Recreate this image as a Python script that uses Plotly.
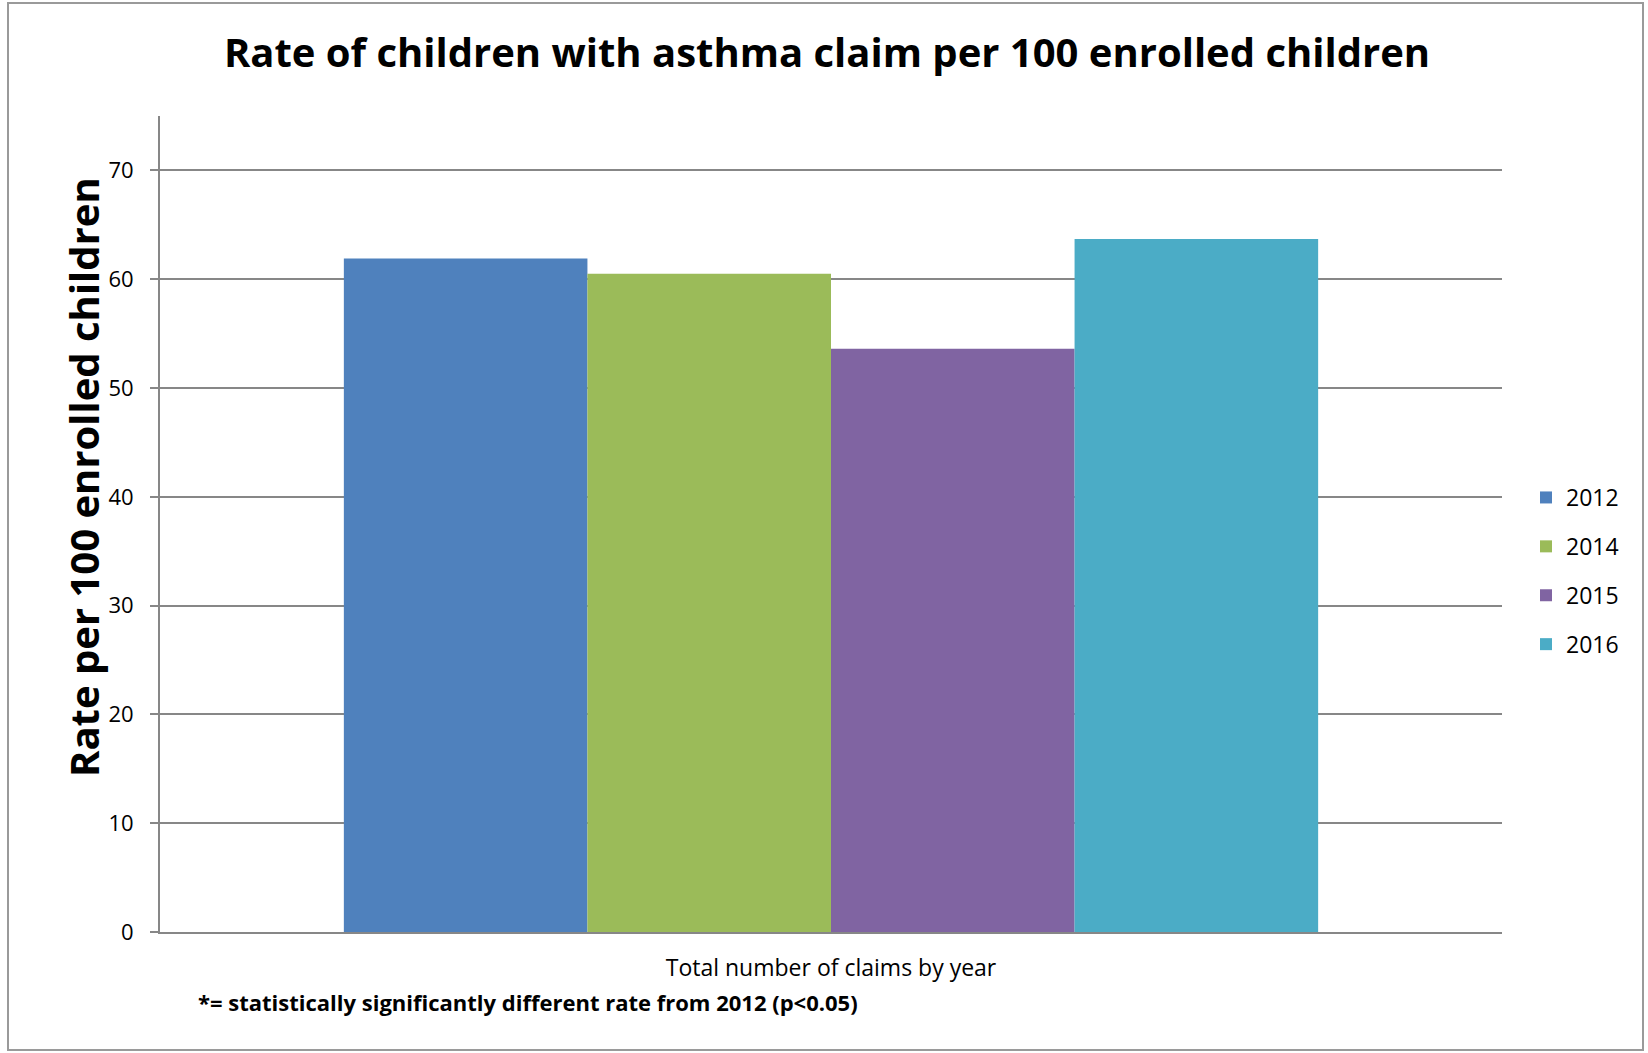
import plotly.graph_objects as go

# Chart data
category = ["Total number of claims by year"]
years = ["2012", "2014", "2015", "2016"]
rates = [61.9, 60.5, 53.6, 63.7]
colors = ["#4F81BD", "#9BBB59", "#8064A2", "#4BACC6"]
y_ticks = [0, 10, 20, 30, 40, 50, 60, 70]

FONT = "Open Sans"

fig = go.Figure()
for yr, val, col in zip(years, rates, colors):
    fig.add_trace(go.Bar(
        x=category, y=[val], name=yr, marker=dict(color=col, line=dict(width=0)),
        legendgroup=yr,
    ))

W, H = 1648, 1053
L, R, T, B = 160, 146, 116, 121
pw, ph = W - L - R, H - T - B

def px_x(x):
    return (x - L) / pw

def px_y(y):
    return (H - B - y) / ph

fig.update_layout(
    width=W, height=H,
    margin=dict(l=L, r=R, t=T, b=B, autoexpand=False),
    paper_bgcolor="white", plot_bgcolor="white",
    barmode="group", bargap=0.274, bargroupgap=0,
    font=dict(family=FONT, color="#000000", size=22),
    title=dict(
        text="<b>Rate of children with asthma claim per 100 enrolled children</b>",
        x=827 / W, xanchor="center", y=1 - 53 / H, yanchor="middle",
        yref="container", font=dict(family=FONT, size=40, color="#000000"),
    ),
    legend=dict(
        x=px_x(1526), xanchor="left", y=px_y(476), yanchor="top",
        traceorder="grouped", tracegroupgap=16,
        font=dict(family=FONT, size=23, color="#000000"),
        bgcolor="rgba(0,0,0,0)",
    ),
    showlegend=True,
)

fig.update_yaxes(
    range=[0, 75], tickvals=y_ticks, showgrid=True, gridcolor="#878787", gridwidth=2,
    showline=True, linecolor="#878787", linewidth=2, ticks="outside", ticklen=8,
    tickcolor="#878787", tickwidth=2, ticklabelstandoff=12, zeroline=False,
    tickfont=dict(family=FONT, size=22, color="#000000"),
)
fig.update_xaxes(
    showline=True, linecolor="#878787", linewidth=2, ticks="", showgrid=False,
    tickfont=dict(family=FONT, size=23, color="#000000"), ticklabelstandoff=14,
)

# Rotated y-axis title
fig.add_annotation(
    text="<b>Rate per 100 enrolled children</b>", textangle=-90,
    x=px_x(83), y=px_y(477), xref="paper", yref="paper",
    xanchor="center", yanchor="middle", showarrow=False,
    font=dict(family=FONT, size=40, color="#000000"),
)

# Footnote
fig.add_annotation(
    text="<b>*= statistically significantly different rate from 2012 (p<0.05)</b>",
    x=px_x(196), y=px_y(1002), xref="paper", yref="paper",
    xanchor="left", yanchor="middle", showarrow=False,
    font=dict(family=FONT, size=22, color="#000000"),
)

# Outer chart frame
fig.add_shape(
    type="rect", xref="paper", yref="paper",
    x0=px_x(8), x1=px_x(1643), y0=px_y(1050), y1=px_y(3),
    line=dict(color="#9A9A9A", width=2), fillcolor="rgba(0,0,0,0)", layer="below",
)

fig.write_html("out.html")
